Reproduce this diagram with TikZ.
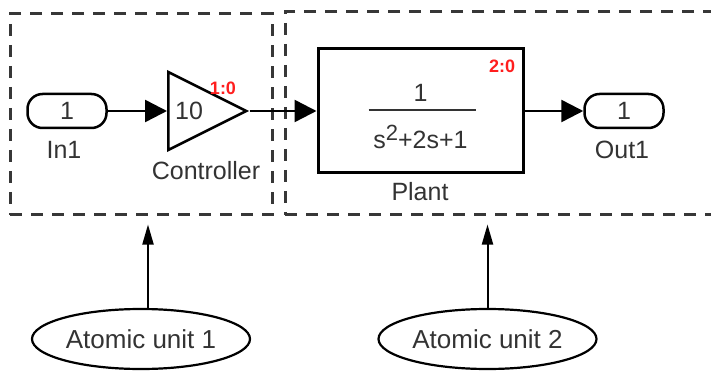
\documentclass[tikz,border=0pt]{standalone}
\usepackage{fontspec}
\setmainfont{Liberation Sans}
\definecolor{sltext}{RGB}{51,51,51}
\definecolor{sldash}{RGB}{55,55,55}
\definecolor{slred}{RGB}{255,30,30}
\usetikzlibrary{arrows.meta,positioning,shapes.geometric,calc}

\begin{document}
\begin{tikzpicture}[x=1pt, y=-1pt,
  unitbox/.style={draw=sldash, dash pattern=on 12pt off 9pt, line width=3pt, inner sep=0pt},
  port/.style={draw=black, line width=2.5pt, rounded corners=15pt, minimum width=79pt, minimum height=34pt, inner sep=0pt, font=\fontsize{25}{25}\selectfont, text=sltext},
  lbl/.style={font=\fontsize{25}{25}\selectfont, text=sltext, inner sep=0pt},
  rate/.style={font=\fontsize{18}{18}\selectfont\bfseries, text=slred, inner sep=0pt},
  sig/.style={line width=2.5pt, -{Triangle[length=22pt,width=22pt]}},
  unit/.style={draw=black, ellipse, line width=2.2pt, minimum width=218pt, minimum height=60pt, inner sep=0pt, font=\fontsize{26}{26}\selectfont, text=sltext},
  pointer/.style={line width=2pt, -{Triangle[length=20pt,width=11pt]}}
]
  \useasboundingbox (0,0) rectangle (711,371);

  % atomic subsystems
  \node[unitbox, minimum width=262pt, minimum height=201pt] (box1) at (141,114.5) {};
  \node[unitbox, minimum width=460pt, minimum height=203pt] (box2) at (515,113.5) {};

  % blocks
  \node[port] (in1) at (67,111) {1};
  \node[lbl] (in1lbl) at (64,150) {In1};

  \node[draw, isosceles triangle, isosceles triangle stretches, shape border rotate=0, minimum width=78pt, minimum height=78pt, line width=2.5pt, inner sep=0pt, anchor=west] (gain) at (167,111) {};
  \node[lbl, anchor=west] (gainval) at ([xshift=8pt]gain.west) {10};
  \node[rate] (gainrate) at (223,88) {1:0};
  \node[lbl] (gainlbl) at (206,171) {Controller};

  \node[draw, line width=3pt, minimum width=205pt, minimum height=124pt, inner sep=0pt] (plant) at (420.5,111) {};
  \node[lbl] (num) at ([yshift=18pt]plant.center) {1};
  \draw[line width=1.5pt, sltext] ([xshift=-52pt,yshift=1pt]plant.center) -- ([xshift=55pt,yshift=1pt]plant.center);
  \node[lbl] (den) at ([yshift=-26pt]plant.center) {s\raisebox{8pt}{\fontsize{22}{22}\selectfont 2}+2s+1};
  \node[rate] (plantrate) at (502,66) {2:0};
  \node[lbl] (plantlbl) at (420,192) {Plant};

  \node[port] (out1) at (624,111) {1};
  \node[lbl] (out1lbl) at (622,150) {Out1};

  \draw[sig] (in1.east) -- (gain.west);
  \draw[sig] (gain.east) -- (plant.west);
  \draw[sig] (plant.east) -- (out1.west);

  % annotations
  \node[unit] (unit1) at (141,339) {Atomic unit 1};
  \node[unit] (unit2) at (487.5,339) {Atomic unit 2};
  \draw[pointer, shorten >=8pt] ([xshift=7pt]unit1.north) -- ([xshift=7pt]unit1.north |- box1.south);
  \draw[pointer, shorten >=8pt] (unit2.north) -- (unit2.north |- box2.south);
\end{tikzpicture}
\end{document}
